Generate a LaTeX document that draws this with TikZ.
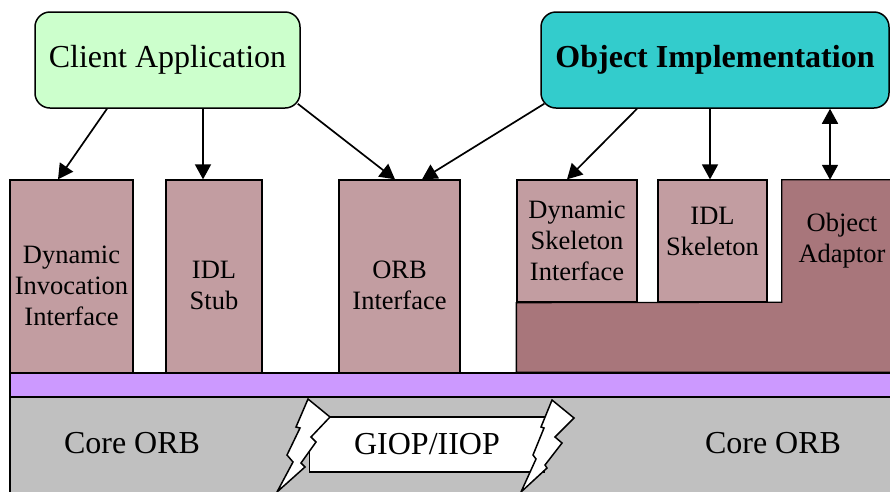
\documentclass[tikz,border=0pt]{standalone}
\usepackage{fontspec}
\setmainfont{Liberation Serif}
\usetikzlibrary{arrows.meta, backgrounds}
\definecolor{clientgreen}{HTML}{CCFFCC}
\definecolor{implcyan}{HTML}{33CCCC}
\definecolor{partrose}{HTML}{C29DA1}
\definecolor{baserose}{HTML}{A8767B}
\definecolor{orbviolet}{HTML}{CC99FF}
\definecolor{coregray}{HTML}{C0C0C0}
\tikzset{
    x=1pt, y=-1pt, % coordinates as in the picture, y grows downwards
    >={Triangle[length=15pt, width=16pt]}, % filled arrow heads
    app/.style={draw, line width=1.5pt, rounded corners=15pt, font=\fontsize{32}{38}\selectfont}, % the two applications
    part/.style={draw, line width=1.3pt, fill=partrose, align=center, inner sep=0pt, font=\fontsize{26.5}{31}\selectfont}, % interface blocks
    layer/.style={draw, line width=1.3pt}, % horizontal layers
    link/.style={->, line width=1.7pt}, % calls between the blocks
    bolt/.style={draw, fill=white, line width=1.5pt}, % lightning ends of the GIOP banner
    big/.style={font=\fontsize{32}{38}\selectfont},
}
\begin{document}
\begin{tikzpicture}
    \useasboundingbox (0,0) rectangle (890,491);
    % client side
    \node[app, fill=clientgreen, minimum width=265, minimum height=96] (client) at (167.5,60) {Client Application};
    \node[part, minimum width=123, minimum height=211] (dii) at (71.5,285.5) {Dynamic\\Invocation\\Interface};
    \node[part, minimum width=96, minimum height=211] (stub) at (214,285.5) {IDL\\Stub};
    \node[part, minimum width=121, minimum height=211] (orbif) at (399.5,285.5) {ORB\\Interface};
    % server side
    \node[app, fill=implcyan, minimum width=348, minimum height=96, font=\fontsize{32}{38}\selectfont\bfseries] (impl) at (715,60) {Object Implementation};
    \node[part, minimum width=120, minimum height=122] (dsi) at (577,241) {Dynamic\\Skeleton\\Interface};
    \node[part, minimum width=109, minimum height=122, text depth=20pt] (skel) at (712.5,241) {IDL\\Skeleton};
    \node[align=center, inner sep=0pt, minimum width=120, minimum height=122, font=\fontsize{26.5}{31}\selectfont] (oa) at (842,241) {Object\\Adaptor};
    % ORB layers
    \node[layer, fill=orbviolet, minimum width=890, minimum height=24, inner sep=0pt] (bar) at (455,385) {};
    \begin{scope}[on background layer]
        \draw[layer, fill=baserose] (dsi.south west) -- (dsi.south west |- bar.north) -- (bar.north east)
            -- (oa.north east) -- (oa.north west) -- (oa.south west) -- cycle;
    \end{scope}
    \draw[layer, fill=coregray] (10,397) rectangle (900,500);
    \node[big] (core1) at (132,443) {Core ORB};
    \node[big] (core2) at (773,443) {Core ORB};
    \node[draw, fill=white, line width=1.5pt, big, minimum width=235, minimum height=55] (giop) at (427,444.5) {GIOP/IIOP};
    \draw[bolt] (308,399) -- (330,417) -- (311,437) -- (316,442) -- (301,463) -- (305,467) -- (277,492)
        -- (293,462) -- (287,455) -- (300,428) -- (296,427) -- cycle;
    \draw[bolt] (552,400) -- (574,418) -- (555,437) -- (562,443) -- (545,465) -- (547,468) -- (521,492)
        -- (536,459) -- (533,455) -- (544,428) -- (541,427) -- cycle;
    % calls
    \draw[link] ([xshift=-60.5]client.south) -- ([xshift=-13.5]dii.north);
    \draw[link] ([xshift=-11]stub.north |- client.south) -- ([xshift=-11]stub.north);
    \draw[link] ([shift={(-3,-5)}]client.south east) -- ([xshift=-4.5]orbif.north);
    \draw[link] ([shift={(4,-5)}]impl.south west) -- ([xshift=22.5]orbif.north);
    \draw[link] ([xshift=-78]impl.south) -- ([xshift=-10]dsi.north);
    \draw[link] ([xshift=-2.5]skel.north |- impl.south) -- ([xshift=-2.5]skel.north);
    \draw[link, <->] ([xshift=-12]oa.north |- impl.south) -- ([xshift=-12]oa.north);
\end{tikzpicture}
\end{document}
